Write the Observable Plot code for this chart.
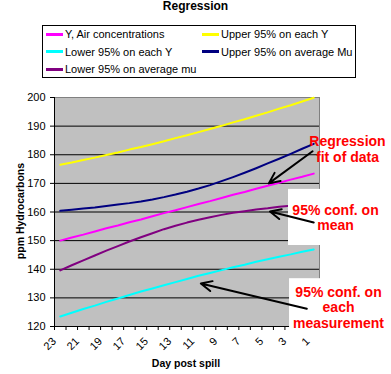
<!DOCTYPE html>
<html><head><meta charset="utf-8">
<script src="https://cdn.jsdelivr.net/npm/d3@7"></script>
<script src="https://cdn.jsdelivr.net/npm/@observablehq/plot@0.6"></script>
<style>
body{margin:0;background:#fff;font-family:"Liberation Sans",Arial,sans-serif;}
#wrap{position:relative;width:391px;height:374px;overflow:hidden;}
#title{position:absolute;left:0;top:0;width:391px;text-align:center;font-weight:bold;font-size:12px;line-height:12px;}
#legend{position:absolute;left:42px;top:25px;width:312px;height:51px;border:1px solid #000;}
.item{position:absolute;display:flex;align-items:center;height:12px;font-size:11px;white-space:nowrap;}
.sw{display:inline-block;width:17px;height:3px;margin-right:2px;}
#chart{position:absolute;left:0;top:80px;}
.axlabel{position:absolute;font-weight:bold;font-size:10.5px;line-height:12px;white-space:nowrap;text-align:center;}
#xlabel{left:126px;width:120px;top:357px;}
#ylabel{left:-40.5px;width:120px;top:204.5px;transform:rotate(-90deg);transform-origin:60px 6px;}
</style>
</head><body>
<div id="wrap">
  <div id="title">Regression</div>
  <div id="legend"></div>
  <div id="chart"></div>
  <div id="xlabel" class="axlabel"></div>
  <div id="ylabel" class="axlabel"></div>
</div>
<script>
// ---- data ----
const days = [23,22,21,20,19,18,17,16,15,14,13,12,11,10,9,8,7,6,5,4,3,2,1];
const labelDays = [23,21,19,17,15,13,11,9,7,5,3,1];
const yTicks = [120,130,140,150,160,170,180,190,200];
const gridTicks = [130,140,150,160,170,180,190];
const xTitle = "Day post spill";
const yTitle = "ppm Hydrocarbons";

const yAir      = [150.0,151.1,152.1,153.2,154.3,155.3,156.4,157.4,158.5,159.6,160.6,161.7,162.8,163.8,164.9,166.0,167.0,168.1,169.2,170.2,171.3,172.3,173.4];
const upperEach = [176.5,177.3,178.2,179.0,179.9,180.8,181.8,182.7,183.7,184.7,185.8,186.8,187.9,189.0,190.1,191.3,192.4,193.6,194.8,196.1,197.3,198.6,199.9];
const lowerEach = [123.5,124.8,126.1,127.3,128.6,129.8,131.0,132.2,133.3,134.4,135.5,136.6,137.7,138.7,139.7,140.7,141.6,142.6,143.5,144.4,145.2,146.1,146.9];
const upperMu   = [160.4,160.8,161.2,161.6,162.1,162.6,163.1,163.7,164.4,165.2,166.1,167.1,168.2,169.4,170.8,172.2,173.7,175.3,177.0,178.6,180.3,182.1,183.8];
const lowerMu   = [139.6,141.4,143.1,144.8,146.5,148.1,149.7,151.2,152.6,154.0,155.2,156.3,157.3,158.2,159.0,159.7,160.3,160.9,161.3,161.8,162.2,162.6,163.0];

const seriesNames  = ["Y, Air concentrations","Upper 95% on each Y","Lower 95% on each Y","Upper 95% on average Mu","Lower 95% on average mu"];
const seriesColors = ["#FF00FF","#FFFF00","#00FFFF","#000080","#800080"];
const seriesValues = [yAir, upperEach, lowerEach, upperMu, lowerMu];

// annotations (data units)
const noteText = ["Regression\nfit of data", "95% conf. on\nmean", "95% conf. on\neach\nmeasurement"];
const noteDay  = [-1.93, -0.89, -1.15];
const noteVal  = [182.1, 158.1, 126.7];
const boxDay1 = [3.19, 3.1];
const boxDay2 = [-5.75, -5.75];
const boxVal1 = [167.9, 136.7];
const boxVal2 = [148.3, 118.5];
const arrowDay1 = [1.1, 1.0, 1.6];
const arrowVal1 = [181.2, 156.3, 126.2];
const arrowDay2 = [4.9, 4.8, 10.8];
const arrowVal2 = [170.0, 160.2, 135.0];

// ---- legend & titles ----
document.getElementById("xlabel").textContent = xTitle;
document.getElementById("ylabel").textContent = yTitle;
const legend = document.getElementById("legend");
const legendPos = [[3,2],[159,2],[3,19.7],[159,19.7],[3,37]];
seriesNames.forEach((n,i)=>{
  const d = document.createElement("div");
  d.className = "item";
  d.style.left = legendPos[i][0]+"px";
  d.style.top = legendPos[i][1]+"px";
  d.innerHTML = `<span class="sw" style="background:${seriesColors[i]}"></span><span>${n}</span>`;
  legend.appendChild(d);
});

// ---- chart ----
const lineMarks = seriesValues.map((vals,i)=>
  Plot.line(days.map((d,j)=>({day:d, v:vals[j]})), {x:"day", y:"v", stroke:seriesColors[i], strokeWidth:2})
);
const boundaries = days.map(d=>d+0.5).concat([0.5]);
const boxes = boxDay1.map((d,i)=>({x1:d, x2:boxDay2[i], y1:boxVal1[i], y2:boxVal2[i]}));
const notes = noteText.map((t,i)=>({t, x:noteDay[i], y:noteVal[i]}));
const arrows = arrowDay1.map((d,i)=>({x1:d, y1:arrowVal1[i], x2:arrowDay2[i], y2:arrowVal2[i]}));

const chart = Plot.plot({
  width: 391, height: 294,
  marginTop: 17, marginBottom: 48, marginLeft: 54, marginRight: 72,
  style: {fontFamily: "Liberation Sans, Arial, sans-serif", fontSize: "11px", background: "transparent", overflow: "visible", color: "#000"},
  x: {type: "linear", domain: [23.5, 0.5]},
  y: {domain: [120, 200]},
  marks: [
    Plot.frame({fill: "#C0C0C0", stroke: "#808080"}),
    Plot.gridY(gridTicks, {stroke: "#000", strokeOpacity: 1}),
    ...lineMarks,
    Plot.ruleX([23.5], {stroke: "#000"}),
    Plot.ruleY([120], {stroke: "#000"}),
    Plot.axisY(yTicks, {tickSize: 4, tickPadding: 5, label: null}),
    Plot.axisX(boundaries, {tickSize: 4, tickFormat: () => "", label: null}),
    Plot.axisX(labelDays, {tickSize: 0, tickPadding: 13, tickRotate: -45, dx: -6, label: null}),
    Plot.rect(boxes, {x1: "x1", x2: "x2", y1: "y1", y2: "y2", fill: "white"}),
    Plot.text(notes, {x: "x", y: "y", text: "t", fill: "red", fontWeight: "bold", fontSize: 14, lineHeight: 1.13, textAnchor: "middle"}),
    Plot.arrow(arrows, {x1: "x1", y1: "y1", x2: "x2", y2: "y2", stroke: "black", strokeWidth: 2, headLength: 9, headAngle: 50})
  ]
});
document.getElementById("chart").appendChild(chart);
</script>
</body></html>
